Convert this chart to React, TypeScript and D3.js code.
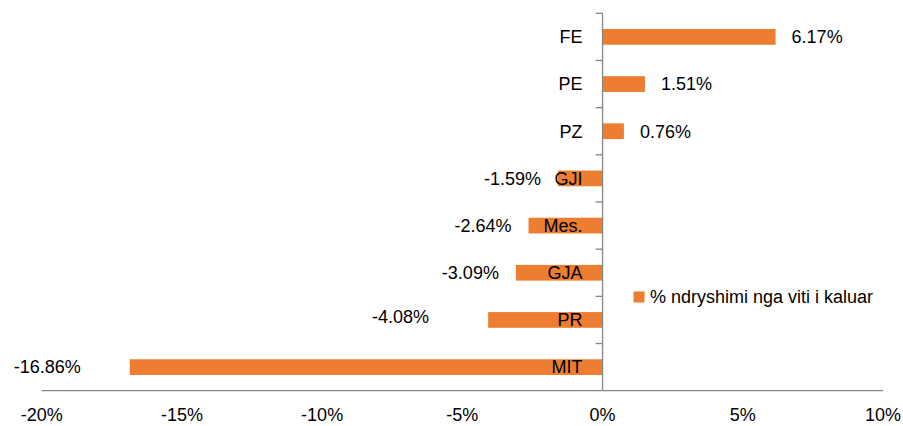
import React, { useEffect } from 'react';
import * as d3 from 'd3';

const categories = ['FE', 'PE', 'PZ', 'GJI', 'Mes.', 'GJA', 'PR', 'MIT'];
const changes = [6.17, 1.51, 0.76, -1.59, -2.64, -3.09, -4.08, -16.86];
const xTicks = [-20, -15, -10, -5, 0, 5, 10];
const seriesName = '% ndryshimi nga viti i kaluar';

const width = 903;
const height = 426;
const font = '"Liberation Sans", Arial, sans-serif';
const orange = '#ED7D31';
const axisColor = '#868686';

// a couple of labels were dragged aside by hand in the original
const labelNudge: Record<string, [number, number]> = {
  PR: [-42, -3],
  MIT: [-32, 0],
};

const App = () => {
  useEffect(() => {
    document.body.style.margin = '0';
  }, []);

  const x = d3.scaleLinear().domain([-20, 10]).range([41.7, 883]);
  const y = d3.scaleBand()
    .domain(categories)
    .range([13.3, 390.7])
    .paddingInner(2 / 3)
    .paddingOuter(1 / 3);

  const step = y.step();
  const top = y.range()[0];
  const bottom = y.range()[1];
  const fmt = (v: number) => `${v.toFixed(2)}%`;

  return (
    <svg width={width} height={height} style={{ display: 'block' }} fontFamily={font} fontSize={18}>
      <rect width={width} height={height} fill="#fff" />

      {/* bars */}
      {categories.map((c, i) => {
        const v = changes[i];
        return (
          <rect
            key={c}
            x={x(Math.min(0, v))}
            y={y(c)}
            width={Math.abs(x(v) - x(0))}
            height={y.bandwidth()}
            fill={orange}
          />
        );
      })}

      {/* x axis line */}
      <line x1={x(-20)} x2={x(10)} y1={bottom} y2={bottom} stroke={axisColor} strokeWidth={1.3} />

      {/* y axis with ticks between categories */}
      <line x1={x(0)} x2={x(0)} y1={top} y2={bottom} stroke={axisColor} strokeWidth={1.3} />
      {d3.range(categories.length).map(i => (
        <line
          key={i}
          x1={x(0) - 7}
          x2={x(0)}
          y1={top + i * step}
          y2={top + i * step}
          stroke={axisColor}
          strokeWidth={1.3}
        />
      ))}

      {/* category labels next to axis */}
      {categories.map(c => (
        <text
          key={c}
          x={x(0) - 20}
          y={y(c)! + y.bandwidth() / 2}
          dy="0.35em"
          textAnchor="end"
          fill="#000"
        >
          {c}
        </text>
      ))}

      {/* data labels */}
      {categories.map((c, i) => {
        const v = changes[i];
        const nudge = labelNudge[c] || [0, 0];
        const pos = v >= 0;
        return (
          <text
            key={c}
            x={x(v) + (pos ? 16 : -17) + nudge[0]}
            y={y(c)! + y.bandwidth() / 2 + nudge[1]}
            dy="0.35em"
            textAnchor={pos ? 'start' : 'end'}
            fill="#000"
          >
            {fmt(v)}
          </text>
        );
      })}

      {/* x tick labels */}
      {xTicks.map(t => (
        <text key={t} x={x(t)} y={415} dy="0.35em" textAnchor="middle" fill="#000">
          {`${t}%`}
        </text>
      ))}

      {/* legend */}
      <rect x={633.5} y={291.5} width={11} height={11} fill={orange} />
      <text x={650} y={297} dy="0.35em" fill="#000">{seriesName}</text>
    </svg>
  );
};

export default App;
